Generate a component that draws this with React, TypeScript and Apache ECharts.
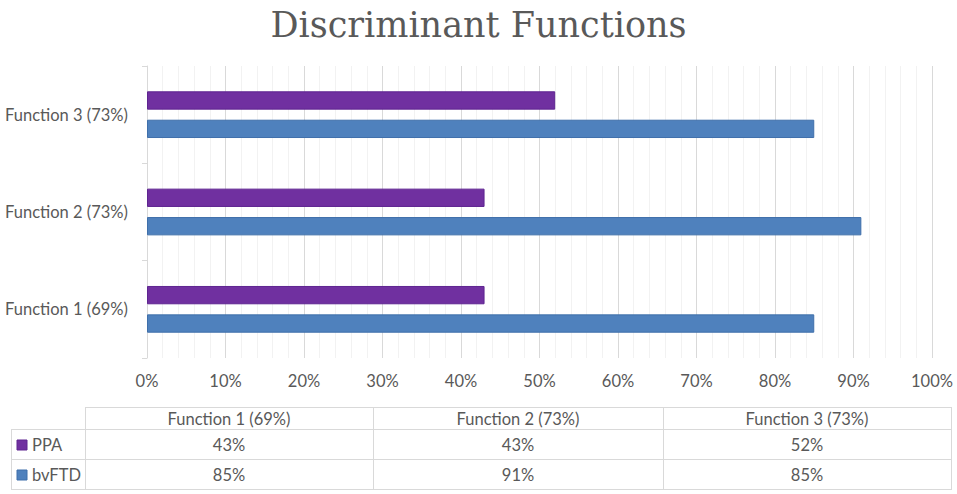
import React, { useEffect, useRef } from "react";
import * as echarts from "echarts";

const categories = ["Function 1 (69%)", "Function 2 (73%)", "Function 3 (73%)"];
const seriesNames = ["PPA", "bvFTD"];
const ppaValues = [43, 43, 52];
const bvftdValues = [85, 91, 85];
const seriesColors = ["#7030A0", "#4F81BD"];
const seriesBorders = ["#5E2490", "#3F6FAA"];

const FONT = "Lato";
const TEXT = "#595959";
const FS = 16.5;

export default function App() {
  const ref = useRef<HTMLDivElement>(null);
  useEffect(() => {
    document.body.style.margin = "0";
    const chart = echarts.init(ref.current!, null, { renderer: "svg" });
    const values = [ppaValues, bvftdValues];

    // data table geometry
    const tLeft = 11, c0 = 85, cols = [85, 373, 663, 951];
    const hTop = 407, hBot = 429, r1 = 459, r2 = 489;
    const lineStyle = { stroke: "#D9D9D9", lineWidth: 1 };
    const g: any[] = [];
    const hl = (x1: number, x2: number, y: number) =>
      g.push({ type: "line", shape: { x1, y1: y + 0.5, x2: x2 + 1, y2: y + 0.5 }, style: lineStyle, silent: true });
    const vl = (x: number, y1: number, y2: number) =>
      g.push({ type: "line", shape: { x1: x + 0.5, y1, x2: x + 0.5, y2: y2 + 1 }, style: lineStyle, silent: true });
    hl(c0, cols[3], hTop);
    hl(tLeft, cols[3], hBot);
    hl(tLeft, cols[3], r1);
    hl(tLeft, cols[3], r2);
    vl(tLeft, hBot, r2);
    cols.forEach((x) => vl(x, hTop, r2));
    categories.forEach((c, i) => {
      g.push({
        type: "text",
        x: (cols[i] + cols[i + 1]) / 2,
        y: (hTop + hBot) / 2 + 1,
        style: { text: c, fill: TEXT, font: `${FS}px ${FONT}`, textAlign: "center", textVerticalAlign: "middle" },
        silent: true,
      });
    });
    const rowTops = [hBot, r1];
    const rowBots = [r1, r2];
    seriesNames.forEach((name, s) => {
      const cy = (rowTops[s] + rowBots[s]) / 2 + 1;
      g.push({
        type: "rect",
        shape: { x: 17, y: cy - 5, width: 10, height: 10 },
        style: { fill: seriesColors[s], stroke: seriesBorders[s], lineWidth: 1 },
        silent: true,
      });
      g.push({
        type: "text",
        x: 32,
        y: cy,
        style: { text: name, fill: TEXT, font: `${FS}px ${FONT}`, textAlign: "left", textVerticalAlign: "middle" },
        silent: true,
      });
      values[s].forEach((v, i) => {
        g.push({
          type: "text",
          x: (cols[i] + cols[i + 1]) / 2,
          y: cy,
          style: { text: v + "%", fill: TEXT, font: `${FS}px ${FONT}`, textAlign: "center", textVerticalAlign: "middle" },
          silent: true,
        });
      });
    });

    chart.setOption({
      animation: false,
      backgroundColor: "#ffffff",
      title: {
        text: "Discriminant Functions",
        left: "center",
        top: 2,
        textStyle: { fontFamily: "DejaVu Serif", fontSize: 35, fontWeight: "normal", color: TEXT },
      },
      grid: { left: 147, right: 25, top: 66, bottom: 136, containLabel: false },
      xAxis: {
        type: "value",
        min: 0,
        max: 100,
        interval: 10,
        axisLine: { show: false },
        axisTick: { show: false },
        axisLabel: {
          formatter: "{value}%",
          color: TEXT,
          fontFamily: FONT,
          fontSize: FS,
          margin: 14,
        },
        splitLine: { show: true, lineStyle: { color: "#D9D9D9", width: 1 } },
        minorTick: { show: false, splitNumber: 5 },
        minorSplitLine: { show: true, lineStyle: { color: "#F2F2F2", width: 1 } },
      },
      yAxis: {
        type: "category",
        data: categories,
        axisLine: { show: true, lineStyle: { color: "#D9D9D9", width: 1 } },
        axisTick: { show: true, length: 5, lineStyle: { color: "#D9D9D9" } },
        axisLabel: { color: TEXT, fontFamily: FONT, fontSize: FS, margin: 19 },
        splitLine: { show: false },
      },
      series: seriesNames.map((name, s) => ({
        name,
        type: "bar",
        data: values[s],
        barGap: "55%",
        barCategoryGap: "52%",
        itemStyle: { color: seriesColors[s], borderColor: seriesBorders[s], borderWidth: 1 },
      })),
      graphic: g,
    });
    return () => chart.dispose();
  }, []);
  return <div ref={ref} style={{ width: 957, height: 494 }} />;
}
